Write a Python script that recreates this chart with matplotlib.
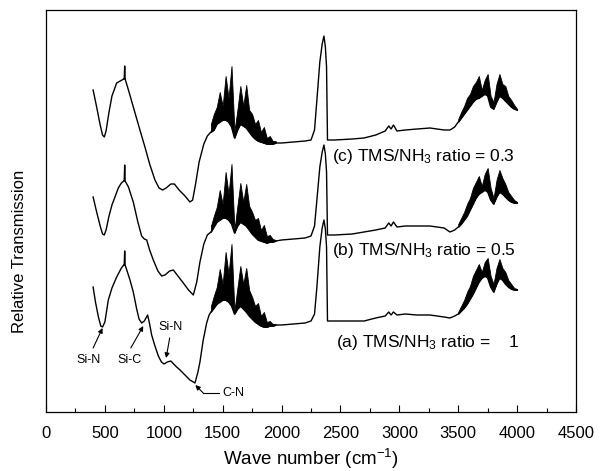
import numpy as np
import matplotlib
matplotlib.use("Agg")
import matplotlib.pyplot as plt

plt.rcParams['font.family'] = ['Liberation Sans', 'DejaVu Sans']
plt.rcParams['mathtext.fontset'] = 'custom'
plt.rcParams['mathtext.rm'] = 'Liberation Sans'
plt.rcParams['mathtext.it'] = 'Liberation Sans'

# shared wavenumber grids (cm-1)
band1_wn = np.arange(1400, 1951, 25)
mid_wn = [2000, 2100, 2200, 2250, 2280, 2300, 2325, 2345, 2360, 2372, 2382, 2390,
          2450, 2600, 2700, 2800, 2880, 2910, 2930, 2950, 2980, 3050, 3150, 3260,
          3380, 3430, 3470]
band2_wn = np.arange(3500, 4001, 25)

# (c) TMS/NH3 = 0.3 (top)
low_wn_c = [400, 430, 460, 480, 495, 510, 535, 560, 600, 630, 660, 664, 668, 672, 700,
            756, 800, 840, 880, 925, 960, 990, 1020, 1060, 1090, 1130, 1180, 1222,
            1245, 1270, 1300, 1340, 1370]
low_tr_c = [322, 305, 287, 277, 275, 281, 300, 316, 329, 331, 333, 333, 346, 333, 322,
            299, 281, 265, 248, 232, 224, 222, 224, 228, 228, 222, 216, 210,
            212, 228, 250, 268, 276]
band1_lo_c = [280, 282, 288, 290, 292, 292, 290, 285, 274, 282, 288, 286, 284, 280, 276,
              273, 271, 270, 269, 268, 268, 268, 269]
band1_hi_c = [288, 298, 305, 320, 306, 336, 314, 346, 281, 302, 326, 306, 327, 302, 298,
              288, 292, 280, 285, 274, 276, 271, 271]
mid_tr_c = [269, 270, 271, 272, 282, 312, 350, 368, 376, 365, 345, 272,
            272, 273, 274, 277, 281, 286, 283, 287, 281, 282, 283, 284,
            282, 282, 285]
band2_lo_c = [290, 294, 298, 302, 306, 310, 313, 314, 316, 318, 316, 305, 303, 310,
              316, 314, 311, 308, 305, 303, 302]
band2_hi_c = [293, 300, 306, 314, 318, 326, 330, 336, 322, 332, 338, 316, 310, 328,
              338, 328, 326, 316, 312, 307, 303]

# (b) TMS/NH3 = 0.5 (middle)
low_wn_b = [400, 430, 460, 480, 495, 510, 535, 560, 614, 640, 660, 664, 668, 672, 700,
            741, 780, 812, 835, 855, 880, 911, 950, 982, 1010, 1050, 1081, 1120,
            1166, 1210, 1251, 1280, 1307, 1340, 1370]
low_tr_b = [215, 200, 186, 178, 177, 182, 196, 207, 224, 229, 231, 231, 247, 231, 225,
            210, 190, 176, 173, 172, 162, 152, 141, 136, 137, 141, 142, 136,
            129, 122, 117, 130, 150, 168, 177]
band1_lo_b = [180, 185, 190, 192, 194, 194, 192, 188, 179, 186, 190, 188, 186, 182, 178,
              175, 172, 171, 170, 169, 170, 170, 171]
band1_hi_b = [186, 196, 205, 222, 208, 240, 218, 248, 182, 206, 229, 210, 228, 206, 200,
              192, 194, 182, 187, 176, 177, 173, 172]
mid_tr_b = [172, 173, 174, 176, 186, 212, 245, 260, 267, 258, 240, 177,
            177, 178, 180, 182, 184, 189, 186, 190, 185, 186, 186, 186,
            184, 180, 182]
band2_lo_b = [185, 188, 192, 196, 202, 208, 214, 218, 220, 222, 220, 212, 208, 215,
              220, 218, 215, 212, 210, 209, 209]
band2_hi_b = [188, 194, 200, 208, 214, 224, 230, 236, 226, 238, 244, 224, 214, 232,
              242, 234, 228, 220, 216, 212, 210]

# (a) TMS/NH3 = 1 (bottom)
low_wn_a = [400, 420, 445, 465, 480, 500, 529, 560, 600, 640, 660, 664, 668, 672, 713,
            741, 770, 790, 812, 835, 863, 880, 897, 925, 954, 980, 1002, 1030, 1060,
            1100, 1138, 1180, 1222, 1265, 1290, 1307, 1335, 1364, 1385]
low_tr_a = [125, 110, 95, 86, 85, 90, 112, 124, 135, 144, 147, 147, 161, 147, 132,
            120, 103, 93, 89, 91, 97, 88, 77, 66, 56, 50, 48, 50, 51,
            46, 42, 37, 32, 29, 40, 50, 72, 89, 97]
band1_lo_a = [100, 104, 108, 110, 112, 112, 110, 106, 98, 103, 106, 103, 100, 96, 93,
              90, 88, 86, 85, 85, 86, 86, 87]
band1_hi_a = [106, 116, 125, 143, 128, 160, 138, 168, 101, 124, 146, 128, 144, 122, 115,
              106, 109, 96, 100, 90, 91, 88, 88]
mid_tr_a = [87, 88, 89, 91, 98, 125, 165, 184, 192, 183, 165, 91,
            91, 91, 91, 94, 96, 100, 97, 100, 97, 98, 97, 97,
            95, 94, 96]
band2_lo_a = [98, 101, 104, 108, 113, 118, 124, 130, 134, 136, 134, 125, 120, 128,
              134, 132, 128, 125, 123, 122, 122]
band2_hi_a = [100, 106, 112, 120, 126, 136, 142, 148, 140, 150, 154, 136, 128, 144,
              153, 144, 140, 132, 128, 124, 123]

curves = [
    (low_wn_c, low_tr_c, band1_lo_c, band1_hi_c, mid_tr_c, band2_lo_c, band2_hi_c),
    (low_wn_b, low_tr_b, band1_lo_b, band1_hi_b, mid_tr_b, band2_lo_b, band2_hi_b),
    (low_wn_a, low_tr_a, band1_lo_a, band1_hi_a, mid_tr_a, band2_lo_a, band2_hi_a),
]
labels = ["(c) TMS/NH$_3$ ratio = 0.3", "(b) TMS/NH$_3$ ratio = 0.5",
          "(a) TMS/NH$_3$ ratio =    1"]
label_pos = [(2428, 255), (2428, 162), (2465, 69)]

fig = plt.figure(figsize=(6.06, 4.71), dpi=100)
ax = fig.add_axes([46 / 606, 1 - 412 / 471, 530 / 606, 402 / 471])

for lw_, lt, b1lo, b1hi, mt, b2lo, b2hi in curves:
    wn = np.concatenate([lw_, band1_wn, mid_wn, band2_wn])
    tr = np.concatenate([lt, b1lo, mt, b2lo])
    ax.plot(wn, tr, color='k', lw=1.0)
    ax.fill_between(band1_wn, b1lo, b1hi, color='k', lw=0.6)
    ax.fill_between(band2_wn, b2lo, b2hi, color='k', lw=0.6)

for txt, (x, y) in zip(labels, label_pos):
    ax.text(x, y, txt, fontsize=12.5, ha='left', va='center')

# peak assignments
arr = dict(arrowstyle='-|>', color='k', lw=0.8, mutation_scale=7, shrinkA=0, shrinkB=0)
ax.text(365, 52, "Si-N", fontsize=9, ha='center', va='center')
ax.annotate("", xy=(480, 84), xytext=(400, 64), arrowprops=arr)
ax.text(713, 52, "Si-C", fontsize=9, ha='center', va='center')
ax.annotate("", xy=(826, 86), xytext=(720, 64), arrowprops=arr)
ax.text(1057, 85, "Si-N", fontsize=9, ha='center', va='center')
ax.annotate("", xy=(1020, 54), xytext=(1050, 74), arrowprops=arr)
ax.text(1500, 19, "C-N", fontsize=9, ha='left', va='center')
ax.plot([1470, 1335], [19, 19], color='k', lw=0.8)
ax.annotate("", xy=(1268, 27), xytext=(1335, 19), arrowprops=arr)

ax.set_xlim(0, 4500)
ax.set_ylim(0, 402)
ax.set_xticks(np.arange(0, 4501, 500))
ax.set_xticks(np.arange(250, 4500, 500), minor=True)
ax.set_yticks([])
ax.tick_params(axis='x', which='major', direction='in', length=5, width=0.8,
               labelsize=12, pad=10)
ax.tick_params(axis='x', which='minor', direction='in', length=3, width=0.8)
for s in ax.spines.values():
    s.set_linewidth(0.9)

ax.set_xlabel("Wave number (cm$^{-1}$)", fontsize=13.5, labelpad=4)
ax.set_ylabel("Relative Transmission", fontsize=12)
ax.yaxis.set_label_coords(-0.035, 0.4)

fig.savefig("out.png", dpi=100)
